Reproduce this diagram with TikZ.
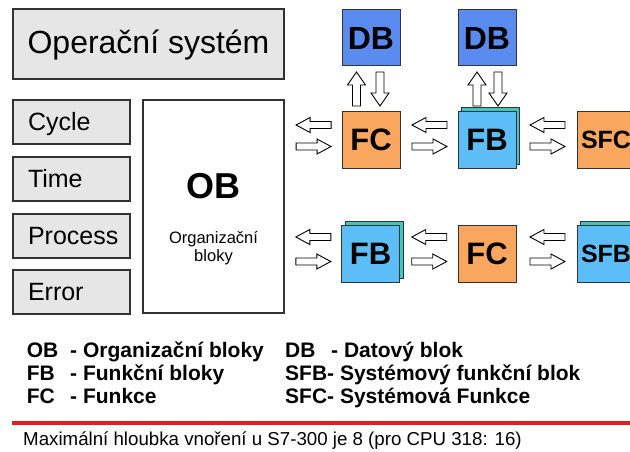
\documentclass[tikz,border=0pt]{standalone}
\usepackage{fontspec}
\setmainfont{Liberation Sans}
\usetikzlibrary{calc,shadows}
\definecolor{osgray}{HTML}{E6E6E6}
\definecolor{dbblue}{HTML}{5A8CF0}
\definecolor{fcorange}{HTML}{F9A65F}
\definecolor{fbblue}{HTML}{5DBEF7}
\definecolor{fbshadow}{HTML}{3FC7BD}
\definecolor{linered}{HTML}{E0201E}
\definecolor{edge}{HTML}{333333}
\begin{document}
\begin{tikzpicture}[x=1pt,y=-1pt,
  graybox/.style={draw=edge, fill=osgray, line width=1.2pt},
  evbox/.style={graybox, minimum width=117pt, minimum height=44pt, inner xsep=15pt, inner ysep=0pt,
    text width=87pt, align=left, text height=20pt, text depth=3pt, font=\fontsize{25}{28}\selectfont},
  blockbox/.style={draw=edge, line width=1pt, minimum width=58pt, minimum height=56pt, inner sep=0pt,
    font=\fontsize{31}{31}\selectfont\bfseries},
  dbbox/.style={blockbox, fill=dbblue, font=\fontsize{32}{32}\selectfont\bfseries},
  fcbox/.style={blockbox, fill=fcorange},
  fbbox/.style={blockbox, fill=fbblue,
    general shadow={fill=fbshadow, draw=edge, line width=1pt, shadow xshift=3.5pt, shadow yshift=4pt}},
  sysfont/.style={font=\fontsize{25}{25}\selectfont\bfseries},
  legend/.style={anchor=base west, inner sep=0pt, font=\fontsize{21}{25}\selectfont\bfseries},
  arrowline/.style={draw=black, fill=white, line width=0.9pt, line join=miter},
  harrow/.pic={\draw[arrowline] (-17.5,-3.5) -- (3.5,-3.5) -- (3.5,-7.5) -- (17.5,0) -- (3.5,7.5) -- (3.5,3.5) -- (-17.5,3.5) -- cycle;},
  varrow/.pic={\draw[arrowline] (-17,-4) -- (4,-4) -- (4,-9) -- (17,0) -- (4,9) -- (4,4) -- (-17,4) -- cycle;}
]
\clip (0,0) rectangle (630,452);
\fill[white] (0,0) rectangle (630,452);

% Operating system
\node[graybox, minimum width=271pt, minimum height=70pt, inner sep=0pt, text height=24pt, text depth=5pt,
  font=\fontsize{32}{36}\selectfont] (os) at (148.5,44) {Operační systém};

% Event boxes
\node[evbox] (cycle) at (71.5,122) {Cycle};
\node[evbox] (time) at (71.5,179) {Time};
\node[evbox] (process) at (71.5,236) {Process};
\node[evbox] (error) at (71.5,292) {Error};

% OB box
\node[draw=edge, fill=white, line width=1.2pt, minimum width=141pt, minimum height=213pt, inner sep=0pt] (ob) at (213.5,206.5) {};
\node[anchor=base, inner sep=0pt, font=\fontsize{36}{36}\selectfont\bfseries] (obt) at (213.5,198) {OB};
\node[anchor=base, inner sep=0pt, align=center, font=\fontsize{16.5}{17.5}\selectfont] (obd) at (213.5,261) {Organizační\\bloky};

% Blocks
\node[dbbox] (db1) at (371,38) {DB};
\node[dbbox] (db2) at (487,38) {DB};
\node[fcbox] (fc1) at (371,140) {FC};
\node[fbbox] (fb1) at (487,140) {FB};
\node[fcbox, sysfont] (sfc) at (606,140) {SFC};
\node[fbbox, minimum height=57pt] (fb2) at (370.5,253.5) {FB};
\node[fcbox, minimum height=57pt] (fc2) at (487,253.5) {FC};
\node[fbbox, sysfont, minimum height=57pt] (sfb) at (606,253.5) {SFB};

% Horizontal hollow arrows, row 1
\pic[rotate=180] at ($(ob.east |- fc1.center)!0.5!(fc1.west)+(0.5,-15)$) {harrow};
\pic at ($(ob.east |- fc1.center)!0.5!(fc1.west)+(0.5,6.5)$) {harrow};
\pic[rotate=180] at ($(fc1.east)!0.5!(fb1.west)+(0.5,-15)$) {harrow};
\pic at ($(fc1.east)!0.5!(fb1.west)+(0.5,6.5)$) {harrow};
\pic[rotate=180] at ($(fb1.east)!0.5!(sfc.west)+(1,-15)$) {harrow};
\pic at ($(fb1.east)!0.5!(sfc.west)+(1,6.5)$) {harrow};

% Horizontal hollow arrows, row 2
\pic[rotate=180] at ($(ob.east |- fb2.center)!0.5!(fb2.west)+(0.5,-16.5)$) {harrow};
\pic at ($(ob.east |- fb2.center)!0.5!(fb2.west)+(0.5,8)$) {harrow};
\pic[rotate=180] at ($(fb2.east)!0.5!(fc2.west)+(0.5,-16.5)$) {harrow};
\pic at ($(fb2.east)!0.5!(fc2.west)+(0.5,8)$) {harrow};
\pic[rotate=180] at ($(fc2.east)!0.5!(sfb.west)+(1,-16.5)$) {harrow};
\pic at ($(fc2.east)!0.5!(sfb.west)+(1,8)$) {harrow};

% Vertical hollow arrows
\pic[rotate=90] at ($(db1.south)!0.5!(fc1.north)+(-14.5,0)$) {varrow};
\pic[rotate=-90] at ($(db1.south)!0.5!(fc1.north)+(9,0)$) {varrow};
\pic[rotate=90] at ($(db2.south)!0.5!(fb1.north)+(-10,0)$) {varrow};
\pic[rotate=-90] at ($(db2.south)!0.5!(fb1.north)+(11,0)$) {varrow};

% Legend
\node[legend] (l1a) at (26.7,357) {OB};
\node[legend] (l1b) at (70,357) {- Organizační bloky};
\node[legend] (l2a) at (26.7,380) {FB};
\node[legend] (l2b) at (70,380) {- Funkční bloky};
\node[legend] (l3a) at (26.7,403) {FC};
\node[legend] (l3b) at (70,403) {- Funkce};
\node[legend] (r1a) at (285,357) {DB};
\node[legend] (r1b) at (331,357) {- Datový blok};
\node[legend] (r2) at (285,380) {SFB- Systémový funkční blok};
\node[legend] (r3) at (285,403) {SFC- Systémová Funkce};

% Red rule
\coordinate (rl) at (12,422.5);
\coordinate (rr) at (630,422.5);
\draw[linered, line width=4pt] (rl) -- (rr);

% Footer
\node[anchor=base west, inner sep=0pt, font=\fontsize{18.7}{22}\selectfont] (foot) at (23,445)
  {Maximální hloubka vnoření u S7-300 je 8 (pro CPU 318: 16)};
\end{tikzpicture}
\end{document}
